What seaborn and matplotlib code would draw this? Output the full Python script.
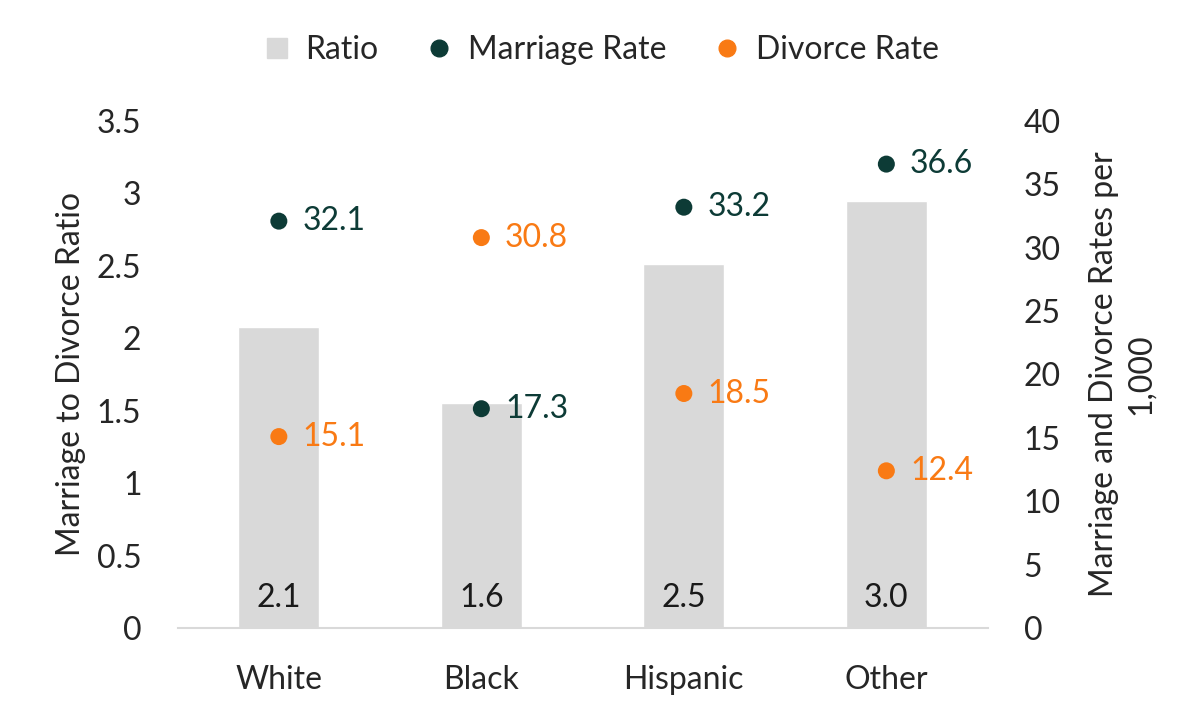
import pandas as pd
import numpy as np
import matplotlib.pyplot as plt
import seaborn as sns
from matplotlib.lines import Line2D

# Data
groups = ['White', 'Black', 'Hispanic', 'Other']
ratio = [2.08, 1.55, 2.51, 2.95]
ratio_labels = ['2.1', '1.6', '2.5', '3.0']
marriage_rate = [32.1, 17.3, 33.2, 36.6]
divorce_rate = [15.1, 30.8, 18.5, 12.4]

gray = '#D9D9D9'
teal = '#0D3B36'
orange = '#F97A14'
fs = 23

df = pd.DataFrame({'group': groups, 'ratio': ratio,
                   'marriage': marriage_rate, 'divorce': divorce_rate})

sns.set_theme(style='white')
plt.rcParams['font.family'] = ['Lato', 'DejaVu Sans']

fig = plt.figure(figsize=(12, 7.19), dpi=100)
ax = fig.add_axes([0.148, 0.1266, 0.675, 0.7051])

sns.barplot(data=df, x='group', y='ratio', color=gray, width=0.4,
            saturation=1, ax=ax)
ax.set_xlim(-0.5, 3.5)
ax.set_ylim(0, 3.5)
ax.set_yticks(np.arange(0, 3.51, 0.5))
ax.set_yticklabels(['0', '0.5', '1', '1.5', '2', '2.5', '3', '3.5'])
ax.set_xlabel('')
ax.set_ylabel('Marriage to Divorce Ratio', fontsize=fs, labelpad=8)
ax.tick_params(axis='y', length=0, pad=26, labelsize=fs)
ax.tick_params(axis='x', length=0, pad=27, labelsize=fs)
for s in ['top', 'left', 'right']:
    ax.spines[s].set_visible(False)
ax.spines['bottom'].set_color(gray)
ax.spines['bottom'].set_linewidth(1.5)

for i, lab in enumerate(ratio_labels):
    ax.text(i, 0.1, lab, ha='center', va='bottom', fontsize=fs, color='#1a1a1a')

ax2 = ax.twinx()
sns.scatterplot(data=df, x='group', y='marriage', color=teal, s=150,
                edgecolor='none', ax=ax2)
sns.scatterplot(data=df, x='group', y='divorce', color=orange, s=150,
                edgecolor='none', ax=ax2)
ax2.set_ylim(0, 40)
ax2.set_yticks(np.arange(0, 41, 5))
ax2.set_ylabel('Marriage and Divorce Rates per\n1,000', fontsize=fs,
               labelpad=20, linespacing=1.3)
ax2.tick_params(axis='y', length=0, pad=26, labelsize=fs)
for s in ['top', 'left', 'right', 'bottom']:
    ax2.spines[s].set_visible(False)
ax2.set_xlim(-0.5, 3.5)

for i in range(len(groups)):
    ax2.annotate(f'{marriage_rate[i]:.1f}', (i, marriage_rate[i]),
                 xytext=(17, 0), textcoords='offset points', va='center',
                 fontsize=fs, color=teal)
    ax2.annotate(f'{divorce_rate[i]:.1f}', (i, divorce_rate[i]),
                 xytext=(17, 0), textcoords='offset points', va='center',
                 fontsize=fs, color=orange)

handles = [Line2D([], [], marker='s', linestyle='', markersize=15,
                  color=gray, label='Ratio'),
           Line2D([], [], marker='o', linestyle='', markersize=12,
                  color=teal, label='Marriage Rate'),
           Line2D([], [], marker='o', linestyle='', markersize=12,
                  color=orange, label='Divorce Rate')]
fig.legend(handles=handles, loc='center', bbox_to_anchor=(0.5, 0.93),
           ncol=3, frameon=False, fontsize=fs, handlelength=1.0,
           handletextpad=0.4, columnspacing=1.4)

fig.savefig('out.png', dpi=100)
